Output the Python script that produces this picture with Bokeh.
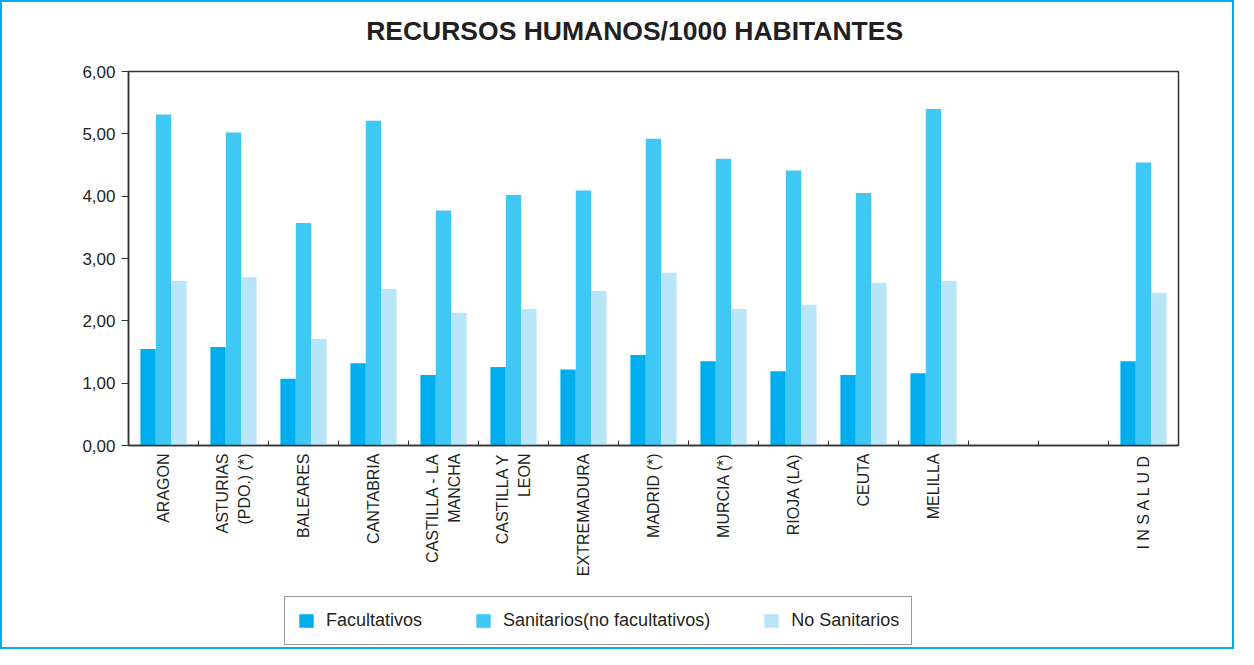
from math import pi
from bokeh.plotting import figure
from bokeh.layouts import column
from bokeh.core.properties import value
from bokeh.models import FixedTicker, Range1d, Legend, LegendItem
from bokeh.embed import file_html
from bokeh.resources import INLINE

# ---- data ----
categories = ["ARAGON", "ASTURIAS\n(PDO.) (*)", "BALEARES", "CANTABRIA",
              "CASTILLA - LA\nMANCHA", "CASTILLA Y\nLEON", "EXTREMADURA",
              "MADRID (*)", "MURCIA (*)", "RIOJA (LA)", "CEUTA", "MELILLA",
              "", "", "I N S A L U D"]
facultativos = [1.55, 1.58, 1.07, 1.32, 1.13, 1.26, 1.22, 1.45, 1.35, 1.19, 1.13, 1.16, None, None, 1.35]
sanitarios = [5.31, 5.02, 3.57, 5.21, 3.77, 4.02, 4.09, 4.92, 4.60, 4.41, 4.05, 5.40, None, None, 4.54]
no_sanitarios = [2.64, 2.70, 1.71, 2.51, 2.13, 2.19, 2.48, 2.77, 2.19, 2.26, 2.61, 2.64, None, None, 2.45]
series_names = ["Facultativos", "Sanitarios(no facultativos)", "No Sanitarios"]
series_colors = ["#00AEEF", "#40C8F4", "#B9E5F9"]
y_ticks = [0, 1, 2, 3, 4, 5, 6]
y_tick_labels = ["0,00", "1,00", "2,00", "3,00", "4,00", "5,00", "6,00"]
title_text = "RECURSOS HUMANOS/1000 HABITANTES"

FONT = "Liberation Sans"
TEXT = "#231f20"
LINE = "#333333"
n = len(categories)
W = 1234


def strip(height):
    f = figure(width=W, height=height, output_backend="svg", toolbar_location=None,
               x_range=Range1d(0, 1), y_range=Range1d(0, height),
               x_axis_location=None, y_axis_location=None,
               min_border_left=0, min_border_right=0, min_border_top=0, min_border_bottom=0)
    f.outline_line_color = None
    f.xgrid.visible = False
    f.ygrid.visible = False
    f.background_fill_color = "white"
    f.border_fill_color = "white"
    return f


# title strip
tf = strip(59)
tf.text(x=[0.482], y=[31], text=[title_text], text_align="center",
        text_baseline="alphabetic", text_font=value(FONT), text_font_size="26.5px",
        text_font_style="bold", text_color=TEXT)

# main chart
p = figure(width=W, height=521, output_backend="svg", toolbar_location=None,
           x_range=Range1d(0, n), y_range=Range1d(0, 6),
           min_border_left=126, min_border_right=54, min_border_top=10,
           min_border_bottom=137)
p.background_fill_color = "white"
p.border_fill_color = "white"
p.outline_line_color = LINE
p.outline_line_width = 1.5
p.xgrid.visible = False
p.ygrid.visible = False

bar_w = 0.22
offsets = [-0.22, 0.0, 0.22]
for vals, col, off in zip([facultativos, sanitarios, no_sanitarios], series_colors, offsets):
    xs = [i + 0.5 + off for i, v in enumerate(vals) if v is not None]
    tops = [v for v in vals if v is not None]
    p.vbar(x=xs, top=tops, width=bar_w, bottom=0, fill_color=col, line_color=None)

# x axis
xa = p.xaxis[0]
xa.ticker = FixedTicker(ticks=[i + 0.5 for i in range(n)], minor_ticks=list(range(1, n + 1)))
xa.major_label_overrides = {i + 0.5: c for i, c in enumerate(categories)}
xa.major_label_orientation = pi / 2
xa.major_tick_in = 0
xa.major_tick_out = 0
xa.minor_tick_in = 5
xa.minor_tick_out = 0
xa.minor_tick_line_color = LINE
xa.major_label_standoff = 8
xa.major_label_text_font = FONT
xa.major_label_text_font_size = "16px"
xa.major_label_text_color = TEXT
xa.major_label_text_line_height = 1.35
xa.axis_line_color = LINE
xa.axis_line_width = 1.5

# y axis
ya = p.yaxis[0]
ya.ticker = FixedTicker(ticks=y_ticks)
ya.major_label_overrides = {v: s for v, s in zip(y_ticks, y_tick_labels)}
ya.major_tick_in = 0
ya.major_tick_out = 7
ya.minor_tick_line_color = None
ya.major_tick_line_color = LINE
ya.major_label_standoff = 6
ya.major_label_text_font = FONT
ya.major_label_text_font_size = "17px"
ya.major_label_text_color = TEXT
ya.axis_line_color = LINE
ya.axis_line_width = 1.5

# legend strip (swatch renderers sit outside the visible range; only their legend entries show)
lf = strip(65)
items = []
for name, col in zip(series_names, series_colors):
    r = lf.vbar(x=[5], top=[600], bottom=[500], width=0.1, fill_color=col, line_color=None)
    items.append(LegendItem(label=name, renderers=[r]))
legend = Legend(items=items, orientation="horizontal", location=(156, 2),
                glyph_width=18, glyph_height=17, label_standoff=11, spacing=52,
                padding=12, label_height=23, margin=0,
                border_line_color=LINE, border_line_width=1.5,
                label_text_font=FONT, label_text_font_size="18px",
                label_text_color=TEXT, background_fill_color="white",
                background_fill_alpha=1.0)
lf.add_layout(legend, "center")

layout = column(tf, p, lf, spacing=0)
layout.styles = {"border": "2px solid #00AEEF", "width": "1234px"}

open("out.html", "w").write(file_html(layout, INLINE))
